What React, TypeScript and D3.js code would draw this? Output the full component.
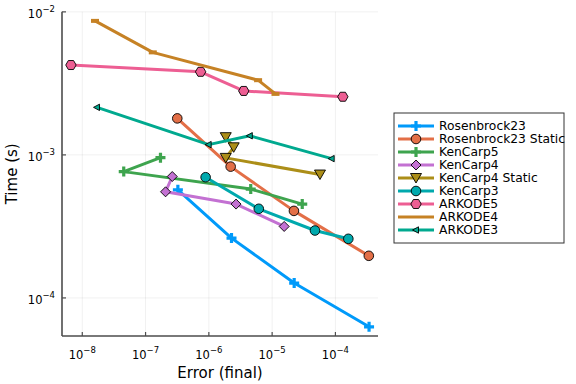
import React from 'react';
import * as d3 from 'd3';

// series in legend order
const seriesNames = [
  'Rosenbrock23',
  'Rosenbrock23 Static',
  'KenCarp5',
  'KenCarp4',
  'KenCarp4 Static',
  'KenCarp3',
  'ARKODE5',
  'ARKODE4',
  'ARKODE3',
];

const rosenbrock23Err = [3.24e-7, 2.28e-6, 2.23e-5, 3.4e-4];
const rosenbrock23Time = [5.7e-4, 2.62e-4, 1.27e-4, 6.28e-5];

const rosenbrock23StaticErr = [3.17e-7, 2.21e-6, 2.21e-5, 3.37e-4];
const rosenbrock23StaticTime = [1.8e-3, 8.28e-4, 4.06e-4, 1.97e-4];

const kenCarp5Err = [1.72e-7, 4.52e-8, 4.59e-6, 2.99e-5];
const kenCarp5Time = [9.57e-4, 7.64e-4, 5.77e-4, 4.53e-4];

const kenCarp4Err = [2.64e-7, 2.07e-7, 2.69e-6, 1.55e-5];
const kenCarp4Time = [7.06e-4, 5.52e-4, 4.53e-4, 3.16e-4];

const kenCarp4StaticErr = [1.85e-6, 2.47e-6, 1.85e-6, 5.7e-5];
const kenCarp4StaticTime = [1.33e-3, 1.13e-3, 9.53e-4, 7.29e-4];

const kenCarp3Err = [8.89e-7, 6.15e-6, 4.75e-5, 1.6e-4];
const kenCarp3Time = [6.98e-4, 4.2e-4, 2.96e-4, 2.59e-4];

const arkode5Err = [6.62e-9, 7.41e-7, 3.56e-6, 1.31e-4];
const arkode5Time = [4.25e-3, 3.81e-3, 2.8e-3, 2.55e-3];

const arkode4Err = [1.59e-8, 1.3e-7, 6.0e-6, 1.13e-5];
const arkode4Time = [8.65e-3, 5.21e-3, 3.33e-3, 2.67e-3];

const arkode3Err = [1.71e-8, 9.93e-7, 4.44e-6, 8.73e-5];
const arkode3Time = [2.15e-3, 1.18e-3, 1.36e-3, 9.42e-4];

const xTickExps = [-8, -7, -6, -5, -4];
const yTickExps = [-4, -3, -2];

const colors = ['#009AFA', '#E36F47', '#3EA44E', '#C371D2', '#AC8E18', '#00A9AD', '#ED5E93', '#C68225', '#00A98F'];
const shapes = ['cross', 'circle', 'cross', 'diamond', 'dtriangle', 'circle', 'hexagon', 'bar', 'ltriangle'];

const errs = [rosenbrock23Err, rosenbrock23StaticErr, kenCarp5Err, kenCarp4Err, kenCarp4StaticErr, kenCarp3Err, arkode5Err, arkode4Err, arkode3Err];
const times = [rosenbrock23Time, rosenbrock23StaticTime, kenCarp5Time, kenCarp4Time, kenCarp4StaticTime, kenCarp3Time, arkode5Time, arkode4Time, arkode3Time];

const series = seriesNames.map((name, i) => ({
  name,
  color: colors[i],
  shape: shapes[i],
  points: errs[i].map((e, j) => ({ err: e, time: times[i][j] })),
}));

const FONT = 'DejaVu Sans, sans-serif';

function markerPath(shape: string): string {
  switch (shape) {
    case 'cross': {
      const a = 5, t = 1.6;
      return `M${-t},${-a}H${t}V${-t}H${a}V${t}H${t}V${a}H${-t}V${t}H${-a}V${-t}H${-t}Z`;
    }
    case 'diamond':
      return 'M0,-5L5,0L0,5L-5,0Z';
    case 'dtriangle':
      return 'M-5.5,-4.5L5.5,-4.5L0,5Z';
    case 'ltriangle':
      return 'M-3.5,0L2.5,-3.2L2.5,3.2Z';
    case 'hexagon': {
      const r = 5.2;
      const pts = d3.range(6).map((k) => {
        const a = (Math.PI / 3) * k;
        return `${(r * Math.cos(a)).toFixed(2)},${(r * Math.sin(a)).toFixed(2)}`;
      });
      return 'M' + pts.join('L') + 'Z';
    }
    case 'bar':
      return 'M-4,-2H4V2H-4Z';
    default:
      return '';
  }
}

function Marker({ shape, color, x, y }: { shape: string; color: string; x: number; y: number }) {
  if (shape === 'circle') {
    return <circle cx={x} cy={y} r={4.8} fill={color} stroke="#000" strokeWidth={0.9} />;
  }
  const noStroke = shape === 'cross' || shape === 'bar';
  return (
    <path
      d={markerPath(shape)}
      transform={`translate(${x},${y})`}
      fill={color}
      stroke={noStroke ? 'none' : '#000'}
      strokeWidth={0.9}
    />
  );
}

function Pow({ exp }: { exp: number }) {
  return (
    <>
      10
      <tspan dy={-6} fontSize={8.5}>{'\u2212' + Math.abs(exp)}</tspan>
    </>
  );
}

export default function App() {
  const left = 62, right = 378, top = 11.7, bottom = 336;

  const allErr = errs.flat().map(Math.log10);
  const allTime = times.flat().map(Math.log10);
  const [ex0, ex1] = d3.extent(allErr) as [number, number];
  const [ey0, ey1] = d3.extent(allTime) as [number, number];
  const px = (ex1 - ex0) * 0.03;
  const py = (ey1 - ey0) * 0.03;

  const x = d3.scaleLog().domain([10 ** (ex0 - px), 10 ** (ex1 + px)]).range([left, right]);
  const y = d3.scaleLog().domain([10 ** (ey0 - py), 10 ** (ey1 + py)]).range([bottom, top]);

  const line = d3
    .line<{ err: number; time: number }>()
    .x((d) => x(d.err))
    .y((d) => y(d.time));

  const axisColor = '#4d4d4d';
  const legX = 394, legY = 113, legW = 170, legH = 130, rowH = 13;

  return (
    <svg width={576} height={384} style={{ position: 'absolute', left: 0, top: 0, background: '#fff' }} fontFamily={FONT}>
      <rect width={576} height={384} fill="#fff" />
      {/* grid */}
      {xTickExps.map((e) => (
        <line key={'gx' + e} x1={x(10 ** e)} x2={x(10 ** e)} y1={top} y2={bottom} stroke="#000" strokeOpacity={0.1} strokeWidth={0.6} />
      ))}
      {yTickExps.map((e) => (
        <line key={'gy' + e} x1={left} x2={right} y1={y(10 ** e)} y2={y(10 ** e)} stroke="#000" strokeOpacity={0.1} strokeWidth={0.6} />
      ))}

      {/* series */}
      {series.map((s) => (
        <g key={s.name}>
          <path d={line(s.points) || ''} fill="none" stroke={s.color} strokeWidth={3} strokeLinejoin="round" />
          {s.points.map((p, j) => (
            <Marker key={j} shape={s.shape} color={s.color} x={x(p.err)} y={y(p.time)} />
          ))}
        </g>
      ))}

      {/* axes */}
      <line x1={left} x2={left} y1={top} y2={bottom} stroke={axisColor} strokeWidth={1.6} />
      <line x1={left} x2={right} y1={bottom} y2={bottom} stroke={axisColor} strokeWidth={1.6} />
      {xTickExps.map((e) => (
        <g key={'xt' + e}>
          <line x1={x(10 ** e)} x2={x(10 ** e)} y1={bottom} y2={bottom - 4} stroke={axisColor} strokeWidth={1.2} />
          <text x={x(10 ** e)} y={bottom + 23} fontSize={11.5} textAnchor="middle" fill="#000">
            <Pow exp={e} />
          </text>
        </g>
      ))}
      {yTickExps.map((e) => (
        <g key={'yt' + e}>
          <line x1={left} x2={left + 4} y1={y(10 ** e)} y2={y(10 ** e)} stroke={axisColor} strokeWidth={1.2} />
          <text x={55} y={y(10 ** e) + 6} fontSize={11.5} textAnchor="end" fill="#000">
            <Pow exp={e} />
          </text>
        </g>
      ))}

      {/* axis labels */}
      <text x={(left + right) / 2} y={378} fontSize={15} textAnchor="middle" fill="#000">Error (final)</text>
      <text transform={`translate(17,${(top + bottom) / 2}) rotate(-90)`} fontSize={15} textAnchor="middle" fill="#000">Time (s)</text>

      {/* legend */}
      <rect x={legX} y={legY} width={legW} height={legH} fill="#fff" stroke="#333" strokeWidth={1} />
      {series.map((s, i) => {
        const cy = legY + 13 + i * rowH;
        return (
          <g key={'lg' + s.name}>
            <line x1={398} x2={434} y1={cy} y2={cy} stroke={s.color} strokeWidth={3} />
            {s.shape !== 'bar' && <Marker shape={s.shape} color={s.color} x={416} y={cy} />}
            <text x={439} y={cy + 4.3} fontSize={12.3} fill="#000">{s.name}</text>
          </g>
        );
      })}
    </svg>
  );
}
